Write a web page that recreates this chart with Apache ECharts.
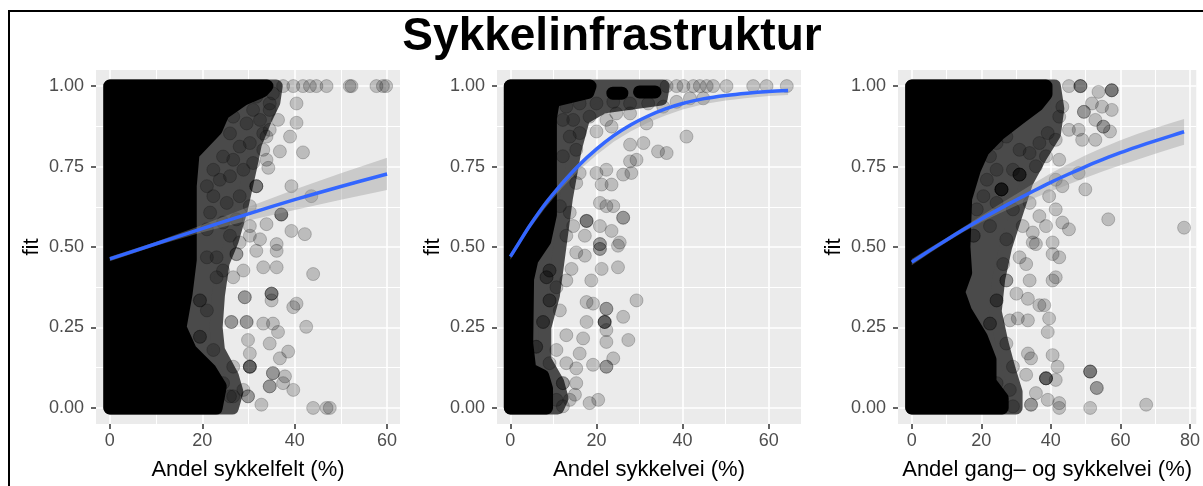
<!DOCTYPE html>
<html>
<head>
<meta charset="utf-8">
<script src="https://cdn.jsdelivr.net/npm/echarts@6/dist/echarts.min.js"></script>
<style>
  html, body { margin: 0; padding: 0; background: #fff; }
  #main { width: 1203px; height: 486px; }
</style>
</head>
<body>
<div id="main"></div>
<script>
// tick values
var yTicks = [0, 0.25, 0.5, 0.75, 1];
var yMinor = [0.125, 0.375, 0.625, 0.875];
var xTicks1 = [0, 20, 40, 60];
var xTicks2 = [0, 20, 40, 60];
var xTicks3 = [0, 20, 40, 60, 80];
var xMinor1 = [10, 30, 50];
var xMinor2 = [10, 30, 50];
var xMinor3 = [10, 30, 50, 70];

var xNames = ['Andel sykkelfelt (%)', 'Andel sykkelvei (%)', 'Andel gang\u2013 og sykkelvei (%)'];

// dense, fully black part of the point cloud (point centres, outline)
var core1 = [
  [[0, 0], [0, 1], [34, 1], [33, 0.985], [29, 0.96], [24.5, 0.915], [23, 0.865], [18, 0.79], [17.4, 0.69],
   [17.4, 0.46], [16.5, 0.355], [15.2, 0.25], [17.4, 0.18], [21.7, 0.118], [23.9, 0.067], [23, 0]]
];
var core2 = [
  [[0, 0], [0, 1], [18.5, 1], [18, 0.98], [10, 0.955], [9.3, 0.9], [9.3, 0.6], [8, 0.52], [5, 0.46],
   [4, 0.4], [3.8, 0.2], [4.5, 0.12], [7.5, 0.1], [8.4, 0.06], [8.4, 0]],
  [[23.8, 0.978], [25.9, 0.978]],
  [[30, 0.982], [33.6, 0.982]]
];
var core3 = [
  [[0, 0], [0, 1], [38.6, 1], [38.6, 0.975], [36, 0.94], [31, 0.9], [25, 0.85], [20.5, 0.8], [18, 0.74],
   [15.5, 0.65], [15, 0.5], [15.5, 0.42], [13.5, 0.36], [15.5, 0.3], [20, 0.22], [22.5, 0.15], [22.5, 0.08],
   [26, 0.03], [26, 0]]
];

// zone of heavily overlapping points around the core (point centres, outline)
var halo1 = [[0, 0], [0, 1], [36, 1], [35.5, 0.95], [33.5, 0.89], [31.5, 0.82], [30.5, 0.75], [28.5, 0.62],
  [26.5, 0.52], [24.5, 0.45], [23.5, 0.35], [23, 0.25], [23.5, 0.18], [26.5, 0.1], [27.5, 0.05], [26.5, 0]];
var halo2 = [[0, 0], [0, 1], [35.5, 1], [35, 0.96], [21.5, 0.935], [17, 0.9], [15, 0.8], [13, 0.65],
  [12, 0.55], [11, 0.45], [10, 0.35], [8, 0.25], [8, 0.15], [11, 0.08], [12, 0.03], [11, 0]];
var halo3 = [[0, 0], [0, 1], [41, 1], [42, 0.93], [41, 0.85], [37, 0.78], [33, 0.7], [30, 0.6],
  [27, 0.5], [25, 0.4], [24, 0.3], [26, 0.2], [28, 0.12], [30, 0.05], [30, 0]];

// single (semi transparent) points
var felt = [
  [37.5, 1], [39.7, 1], [41.8, 1], [43.3, 1], [44.7, 1], [46.9, 1], [51.9, 1], [52.3, 1], [57.7, 1], [59.1, 1], [59.8, 1],
  [40.4, 0.946], [34.6, 0.946], [36.4, 0.895], [40.4, 0.886], [39.0, 0.843], [41.8, 0.794], [36.8, 0.797],
  [33.9, 0.771], [34.3, 0.746], [31.7, 0.689], [31.7, 0.689], [31.7, 0.689], [39.3, 0.689], [43.6, 0.658],
  [37.1, 0.601], [37.1, 0.601], [37.1, 0.601], [39.3, 0.55], [42.2, 0.54], [33.9, 0.571], [30.3, 0.565],
  [32.5, 0.524], [36.1, 0.509],
  [26.7, 0.905], [29.6, 0.884], [32.5, 0.895], [33.2, 0.853], [34.6, 0.864], [30.3, 0.823], [28.1, 0.812],
  [33.2, 0.802], [31.0, 0.761], [28.9, 0.740], [26.0, 0.720], [23.8, 0.709], [22.4, 0.658], [25.3, 0.637],
  [28.1, 0.658], [30.3, 0.627], [27.4, 0.586], [24.5, 0.576], [21.7, 0.607], [21.0, 0.555], [26.0, 0.535],
  [30.3, 0.535], [28.1, 0.514], [33.9, 0.843], [31.0, 0.926], [27.4, 0.946], [31.7, 0.967], [35.3, 0.977],
  [34.6, 0.926], [26.0, 0.853], [24.5, 0.781], [26.7, 0.771], [22.4, 0.740], [21.0, 0.689],
  [27.4, 0.478], [27.4, 0.478], [31.7, 0.488], [36.1, 0.488], [33.2, 0.437], [36.1, 0.437], [44.0, 0.416],
  [28.9, 0.427], [26.7, 0.406], [24.5, 0.427], [35.0, 0.355], [35.0, 0.355], [35.0, 0.355], [35.0, 0.334],
  [29.2, 0.344], [29.2, 0.344], [40.4, 0.324], [39.7, 0.313], [42.5, 0.252], [33.2, 0.262], [35.3, 0.262],
  [36.4, 0.236], [26.3, 0.267], [26.3, 0.267], [29.6, 0.267], [29.6, 0.267], [29.9, 0.211], [34.6, 0.2],
  [38.6, 0.175], [36.8, 0.154], [30.3, 0.169], [30.3, 0.128], [30.3, 0.128], [30.3, 0.128], [30.3, 0.128],
  [26.7, 0.128], [35.3, 0.108], [35.3, 0.108], [34.6, 0.067], [34.6, 0.067], [37.9, 0.098], [39.7, 0.056],
  [37.5, 0.077], [29.9, 0.036], [29.9, 0.036], [28.9, 0.056], [32.8, 0.01], [26.0, 0.036], [44.0, 0],
  [46.9, 0], [47.6, 0], [19.5, 0.334], [19.5, 0.334], [19.5, 0.221], [19.5, 0.221], [23.1, 0.406],
  [21.0, 0.303], [22.4, 0.18], [24.5, 0.077], [21.0, 0.468], [23.1, 0.468], [26.7, 0.036], [22.4, 0.015]
];

var vei = [
  [36.3, 1], [38.6, 1], [40.2, 1], [42.5, 1], [44.0, 1], [45.6, 1], [47.1, 1], [50.2, 1], [56.4, 1], [59.5, 1], [64.2, 1],
  [20.0, 0.946], [23.9, 0.951], [27.8, 0.946], [32.0, 0.946], [35.5, 0.936], [38.6, 0.951], [41.7, 0.962],
  [44.8, 0.962], [16.1, 0.946], [13.0, 0.936],
  [14.6, 0.895], [18.4, 0.905], [22.3, 0.895], [24.6, 0.915], [27.8, 0.915], [31.6, 0.884], [16.1, 0.854],
  [20.0, 0.859], [23.5, 0.874], [40.9, 0.843], [27.8, 0.818], [30.9, 0.823], [34.3, 0.797], [36.3, 0.792],
  [27.8, 0.766], [29.3, 0.771], [15.3, 0.802], [13.8, 0.843], [22.3, 0.74], [26.2, 0.725], [28.1, 0.73],
  [20.0, 0.73], [15.3, 0.699], [16.1, 0.73], [21.2, 0.694], [23.5, 0.694], [20.8, 0.637], [22.3, 0.627],
  [23.9, 0.627], [26.2, 0.591], [26.2, 0.591], [17.7, 0.581], [17.7, 0.581], [17.7, 0.581], [13.8, 0.607],
  [14.6, 0.565], [13.0, 0.535], [20.8, 0.565], [23.5, 0.55], [17.3, 0.535], [20.8, 0.509], [20.8, 0.509],
  [25.4, 0.514], [11.5, 0.627], [12.2, 0.782], [12.2, 0.895],
  [20.8, 0.494], [20.8, 0.494], [25.0, 0.504], [15.3, 0.483], [17.3, 0.473], [14.2, 0.432], [18.8, 0.396],
  [21.2, 0.432], [25.0, 0.437], [13.0, 0.396], [9.1, 0.427], [9.1, 0.427], [9.1, 0.334], [9.1, 0.334],
  [29.3, 0.334], [17.7, 0.329], [19.2, 0.324], [22.3, 0.308], [22.3, 0.308], [21.9, 0.267], [21.9, 0.267],
  [21.9, 0.267], [21.9, 0.267], [26.2, 0.283], [17.7, 0.267], [22.3, 0.242], [22.3, 0.205], [27.4, 0.211],
  [13.0, 0.226], [16.9, 0.216], [7.6, 0.267], [7.6, 0.267], [6.0, 0.19], [6.0, 0.19], [10.7, 0.18],
  [16.1, 0.169], [23.9, 0.154], [22.3, 0.128], [22.3, 0.128], [19.2, 0.134], [13.0, 0.139], [9.1, 0.139],
  [15.3, 0.123], [12.2, 0.077], [12.2, 0.077], [15.3, 0.077], [15.0, 0.041], [18.4, 0.015], [20.4, 0.025],
  [12.2, 0.005], [10.7, 0.025], [13.8, 0.025], [8.4, 0.406], [8.4, 0.406], [10.7, 0.375], [11.5, 0.303]
];

var gang = [
  [48.5, 1], [48.5, 1], [48.5, 1], [57.5, 0.987], [57.5, 0.987], [57.5, 0.987], [53.7, 0.982], [45.2, 1],
  [51.8, 0.946], [49.5, 0.92], [49.5, 0.92], [54.7, 0.936], [57.5, 0.926], [55.1, 0.874], [55.1, 0.874],
  [57.0, 0.859], [52.8, 0.895], [52.8, 0.833], [48.0, 0.864], [45.2, 0.864], [49.0, 0.833], [42.4, 0.905],
  [43.3, 0.936], [39.1, 0.854], [41.4, 0.833], [36.7, 0.823], [33.9, 0.792], [38.6, 0.782], [42.4, 0.771],
  [31.0, 0.802], [29.1, 0.74], [31.0, 0.725], [31.0, 0.725], [31.0, 0.725], [31.0, 0.725],
  [25.8, 0.679], [25.8, 0.679], [25.8, 0.679], [25.8, 0.679], [25.8, 0.679], [35.7, 0.751], [41.4, 0.709],
  [43.3, 0.689], [48.0, 0.73], [49.9, 0.679], [56.5, 0.586], [78.3, 0.56], [22.5, 0.782], [24.4, 0.823],
  [27.2, 0.843], [21.6, 0.709], [20.6, 0.658], [24.4, 0.637], [29.1, 0.617], [33.9, 0.637], [39.5, 0.658],
  [36.7, 0.596], [41.4, 0.617], [43.3, 0.576], [38.6, 0.565], [34.8, 0.545], [31.9, 0.565], [45.2, 0.555],
  [40.5, 0.514], [34.8, 0.514], [27.2, 0.524], [22.5, 0.565], [17.8, 0.535], [17.8, 0.535], [24.4, 0.74],
  [18.7, 0.617],
  [27.2, 0.396], [27.2, 0.396], [33.9, 0.396], [40.5, 0.396], [41.4, 0.406], [42.4, 0.468], [40.5, 0.478],
  [35.7, 0.509], [24.4, 0.334], [24.4, 0.334], [30.1, 0.355], [33.4, 0.339], [36.7, 0.319], [38.1, 0.319],
  [39.5, 0.278], [39.1, 0.236], [30.5, 0.278], [33.4, 0.272], [28.2, 0.272], [22.5, 0.262], [22.5, 0.262],
  [27.2, 0.2], [33.4, 0.169], [34.3, 0.154], [40.5, 0.164], [41.9, 0.128], [38.6, 0.092], [38.6, 0.092],
  [38.6, 0.092], [38.6, 0.092], [41.4, 0.087], [51.3, 0.113], [51.3, 0.113], [51.3, 0.113], [53.2, 0.062],
  [53.2, 0.062], [32.9, 0.103], [29.1, 0.128], [34.3, 0.01], [34.3, 0.01], [39.1, 0.025], [42.4, 0.015],
  [42.4, 0], [51.3, 0], [67.4, 0.01], [29.1, 0.005], [35.7, 0.046], [28.2, 0.056], [24.4, 0.077],
  [26.3, 0.447], [31.0, 0.468], [32.9, 0.447], [17.8, 0.097]
];

// smooth fit and confidence band
var fitX1 = [0, 10, 20, 30, 40, 50, 60];
var fitY1 = [0.463, 0.51, 0.557, 0.603, 0.647, 0.688, 0.727];
var bandLo1 = [0.456, 0.504, 0.546, 0.582, 0.615, 0.647, 0.677];
var bandHi1 = [0.47, 0.516, 0.568, 0.624, 0.679, 0.729, 0.777];

var fitX2 = [0, 2, 4.5, 8, 12, 16, 20, 24, 28, 32, 36, 40, 45, 50, 55, 60, 64.5];
var fitY2 = [0.47, 0.513, 0.566, 0.632, 0.697, 0.755, 0.804, 0.846, 0.88, 0.907, 0.929, 0.946, 0.961, 0.971, 0.978, 0.983, 0.986];
var bandLo2 = [0.46, 0.504, 0.557, 0.62, 0.683, 0.739, 0.786, 0.827, 0.86, 0.887, 0.909, 0.927, 0.944, 0.955, 0.963, 0.969, 0.972];
var bandHi2 = [0.48, 0.522, 0.575, 0.642, 0.707, 0.763, 0.811, 0.852, 0.885, 0.911, 0.932, 0.949, 0.964, 0.974, 0.981, 0.986, 0.989];

var fitX3 = [0, 5, 10, 15, 20, 25, 30, 35, 40, 45, 50, 55, 60, 65, 70, 75, 78.3];
var fitY3 = [0.453, 0.488, 0.522, 0.555, 0.587, 0.617, 0.646, 0.674, 0.701, 0.726, 0.75, 0.772, 0.793, 0.812, 0.83, 0.847, 0.858];
var bandLo3 = [0.443, 0.48, 0.515, 0.547, 0.577, 0.603, 0.628, 0.651, 0.673, 0.694, 0.715, 0.735, 0.754, 0.772, 0.79, 0.807, 0.818];
var bandHi3 = [0.463, 0.496, 0.529, 0.563, 0.597, 0.631, 0.664, 0.697, 0.729, 0.758, 0.785, 0.809, 0.832, 0.852, 0.87, 0.887, 0.898];

var FONT = 'Liberation Sans, Arial, Helvetica, sans-serif';
var POINT = 13;

var panels = [
  { left: 96, width: 304, min: -3, max: 62.8, ticks: xTicks1, minor: xMinor1, pts: felt, core: core1, halo: halo1,
    fx: fitX1, fy: fitY1, lo: bandLo1, hi: bandHi1 },
  { left: 497, width: 304, min: -3.1, max: 67.5, ticks: xTicks2, minor: xMinor2, pts: vei, core: core2, halo: halo2,
    fx: fitX2, fy: fitY2, lo: bandLo2, hi: bandHi2 },
  { left: 898, width: 303, min: -3.95, max: 81.8, ticks: xTicks3, minor: xMinor3, pts: gang, core: core3, halo: halo3,
    fx: fitX3, fy: fitY3, lo: bandLo3, hi: bandHi3 }
];

// filled outline, widened by one point diameter so the edge is round like the dots
function blob(outline, color, api) {
  var pts = outline.map(function (c) { return api.coord(c); });
  return {
    type: 'polygon', shape: { points: pts },
    style: { fill: color, stroke: color, lineWidth: POINT, lineJoin: 'round' }
  };
}

var grids = [], xAxes = [], yAxes = [], series = [];

panels.forEach(function (p, i) {
  grids.push({
    left: p.left, top: 70, width: p.width, height: 356,
    show: true, backgroundColor: '#EBEBEB', borderWidth: 0
  });

  xAxes.push({
    type: 'value', gridIndex: i, min: p.min, max: p.max,
    name: xNames[i], nameLocation: 'middle', nameGap: 35,
    nameTextStyle: { color: '#000', fontSize: 22, fontFamily: FONT },
    axisLine: { show: false, onZero: false },
    axisTick: { show: true, length: 5, customValues: p.ticks, lineStyle: { color: '#333', width: 1.5 } },
    axisLabel: { customValues: p.ticks, margin: 8, color: '#4D4D4D', fontSize: 18, fontFamily: FONT },
    splitLine: { show: true, lineStyle: { color: '#fff', width: 1.6 } }
  });
  yAxes.push({
    type: 'value', gridIndex: i, min: -0.05, max: 1.05,
    name: 'fit', nameLocation: 'middle', nameGap: 53, nameRotate: 90,
    nameTextStyle: { color: '#000', fontSize: 22, fontFamily: FONT },
    axisLine: { show: false, onZero: false },
    axisTick: { show: true, length: 5, customValues: yTicks, lineStyle: { color: '#333', width: 1.5 } },
    axisLabel: {
      customValues: yTicks, margin: 12, color: '#4D4D4D', fontSize: 18, fontFamily: FONT,
      formatter: function (v) { return v.toFixed(2); }
    },
    splitLine: { show: true, lineStyle: { color: '#fff', width: 1.6 } }
  });

  // overlap zone
  series.push({
    type: 'custom', xAxisIndex: i, yAxisIndex: i, silent: true, z: 2,
    data: [[0]],
    renderItem: function (params, api) { return blob(p.halo, '#4a4a4a', api); }
  });

  // core of the cloud
  series.push({
    type: 'custom', xAxisIndex: i, yAxisIndex: i, silent: true, z: 2,
    data: p.core.map(function (c, k) { return [k]; }),
    renderItem: function (params, api) { return blob(p.core[params.dataIndex], '#000', api); }
  });

  series.push({
    type: 'scatter', xAxisIndex: i, yAxisIndex: i, silent: true, z: 3,
    symbolSize: POINT, data: p.pts,
    itemStyle: { color: 'rgba(0,0,0,0.2)', borderColor: 'rgba(0,0,0,0.25)', borderWidth: 0.8, opacity: 1 }
  });

  // confidence band
  series.push({
    type: 'custom', xAxisIndex: i, yAxisIndex: i, silent: true, z: 4,
    data: [[0]],
    renderItem: function (params, api) {
      var pts = [];
      p.fx.forEach(function (x, k) { pts.push(api.coord([x, p.hi[k]])); });
      for (var k = p.fx.length - 1; k >= 0; k--) pts.push(api.coord([p.fx[k], p.lo[k]]));
      return {
        type: 'polygon', shape: { points: pts },
        style: { fill: 'rgba(153,153,153,0.4)' }
      };
    }
  });

  series.push({
    type: 'line', xAxisIndex: i, yAxisIndex: i, silent: true, z: 5,
    data: p.fx.map(function (x, k) { return [x, p.fy[k]]; }),
    smooth: 0.3, showSymbol: false, symbol: 'none',
    lineStyle: { color: '#3366FF', width: 3.5 }
  });
});

// minor grid lines, on extra axes without labels
panels.forEach(function (p, i) {
  xAxes.push({
    type: 'value', gridIndex: i, min: p.min, max: p.max, position: 'top',
    axisLine: { show: false, onZero: false }, axisLabel: { show: false },
    axisTick: { show: false, customValues: p.minor },
    splitLine: { show: true, lineStyle: { color: '#fff', width: 1 } }
  });
  yAxes.push({
    type: 'value', gridIndex: i, min: -0.05, max: 1.05, position: 'right',
    axisLine: { show: false, onZero: false }, axisLabel: { show: false },
    axisTick: { show: false, customValues: yMinor },
    splitLine: { show: true, lineStyle: { color: '#fff', width: 1 } }
  });
});

var chart = echarts.init(document.getElementById('main'), null, { renderer: 'canvas' });
chart.setOption({
  animation: false,
  backgroundColor: '#fff',
  grid: grids,
  xAxis: xAxes,
  yAxis: yAxes,
  series: series,
  graphic: [
    {
      type: 'rect', z: 100, silent: true,
      shape: { x: 9, y: 11, width: 1200, height: 480 },
      style: { fill: 'none', stroke: '#000', lineWidth: 2 }
    },
    {
      type: 'text', z: 100, silent: true, x: 612, y: 37,
      style: {
        text: 'Sykkelinfrastruktur', fill: '#000', align: 'center', verticalAlign: 'middle',
        font: 'bold 46px ' + FONT
      }
    }
  ]
});
</script>
</body>
</html>
